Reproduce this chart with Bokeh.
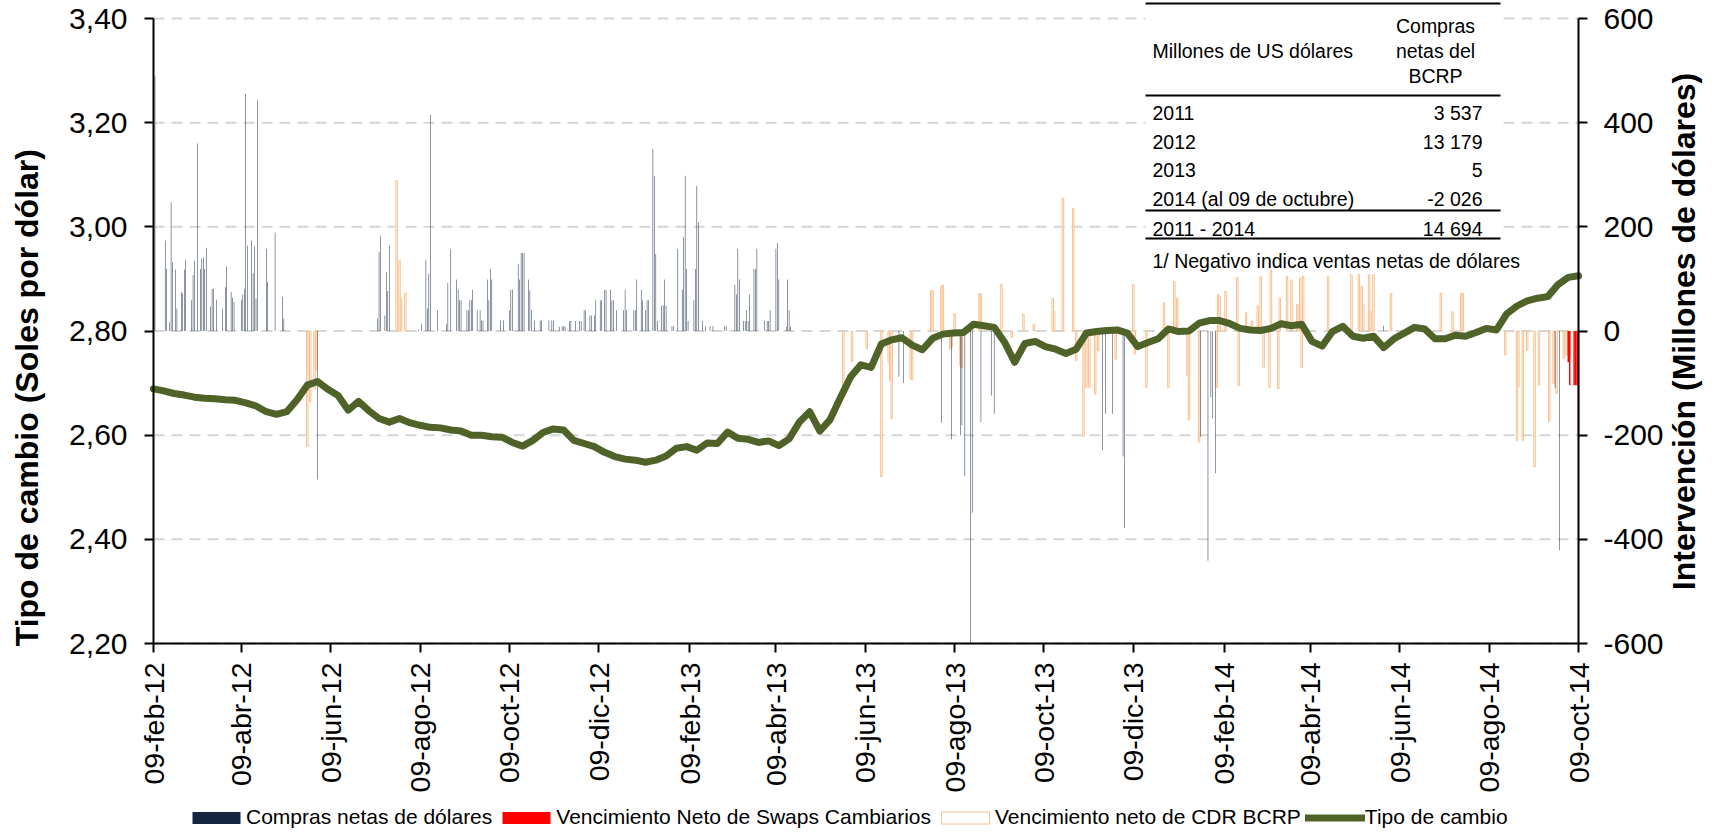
import math
from bokeh.plotting import figure
from bokeh.models import (Range1d, LinearAxis, FixedTicker, ColumnDataSource,
                          Legend, LegendItem, Label, BoxAnnotation)
from bokeh.embed import file_html
from bokeh.resources import INLINE

# ---------------- DATA ----------------
# x = días transcurridos desde el 09-feb-12
tick_dias = [0, 60, 121, 182, 243, 304, 366, 425, 486, 547, 608, 669, 731, 790, 851, 912, 973]
tick_labels = ["09-feb-12", "09-abr-12", "09-jun-12", "09-ago-12", "09-oct-12", "09-dic-12",
               "09-feb-13", "09-abr-13", "09-jun-13", "09-ago-13", "09-oct-13", "09-dic-13",
               "09-feb-14", "09-abr-14", "09-jun-14", "09-ago-14", "09-oct-14"]

left_ticks = [2.2, 2.4, 2.6, 2.8, 3.0, 3.2, 3.4]
left_labels = ["2,20", "2,40", "2,60", "2,80", "3,00", "3,20", "3,40"]
right_ticks = [-600, -400, -200, 0, 200, 400, 600]
right_labels = ["-600", "-400", "-200", "0", "200", "400", "600"]

# Tipo de cambio (S/ por US$), lectura semanal (cada 7 días desde 09-feb-12)
tc_semanal = [
    2.689, 2.685, 2.680, 2.677, 2.673, 2.671, 2.670, 2.668, 2.667, 2.662,
    2.656, 2.645, 2.640, 2.645, 2.668, 2.696, 2.703, 2.688, 2.676, 2.648,
    2.665, 2.647, 2.632, 2.625, 2.632, 2.624, 2.619, 2.615, 2.614, 2.610,
    2.608, 2.600, 2.600, 2.597, 2.596, 2.586, 2.579, 2.590, 2.605, 2.612,
    2.610, 2.590, 2.584, 2.578, 2.567, 2.559, 2.554, 2.552, 2.548, 2.552,
    2.560, 2.575, 2.578, 2.571, 2.585, 2.584, 2.606, 2.594, 2.592, 2.586,
    2.589, 2.580, 2.593, 2.625, 2.645, 2.608, 2.630, 2.672, 2.712, 2.735,
    2.730, 2.775, 2.783, 2.787, 2.773, 2.764, 2.786, 2.794, 2.796, 2.797,
    2.813, 2.810, 2.807, 2.779, 2.740, 2.776, 2.780, 2.770, 2.765, 2.757,
    2.765, 2.796, 2.799, 2.801, 2.802, 2.796, 2.770, 2.778, 2.785, 2.804,
    2.799, 2.800, 2.815, 2.820, 2.820, 2.814, 2.805, 2.802, 2.801, 2.805,
    2.814, 2.810, 2.813, 2.780, 2.771, 2.799, 2.809, 2.790, 2.786, 2.790,
    2.768, 2.785, 2.796, 2.807, 2.804, 2.785, 2.785, 2.792, 2.790, 2.797,
    2.805, 2.802, 2.833, 2.848, 2.858, 2.863, 2.866, 2.889, 2.903, 2.906,
]
tc_dias = [7 * i for i in range(len(tc_semanal))]

# Compras netas de dólares (millones US$)
compras_dias = [
    1, 8, 9, 11, 12, 13, 15, 16, 19, 20, 21, 22, 26, 27, 28, 30, 32, 33, 34, 35, 36, 39, 40, 41, 43,
    47, 49, 50, 53, 54, 55, 60, 61, 62, 63, 64, 67, 68, 69, 70, 71, 77, 78, 83, 88, 89,
    112,
    153, 154, 155, 158, 159, 160, 161, 181, 183, 186, 187, 188, 189, 194, 200, 201, 203, 207, 208, 209,
    210, 214, 215, 216, 217, 218, 221, 223, 224, 225, 228, 229, 230, 231, 237, 239, 243, 244, 245, 249,
    250, 251, 252, 253, 256, 257, 258, 260, 264, 265, 270, 272, 273, 277, 279, 280, 281, 284, 285, 288,
    291, 292, 294, 295, 298, 299, 301, 302, 305, 306, 308, 309, 312, 313, 314, 316, 321, 322, 323, 328,
    329, 330, 333, 334, 336, 337, 338, 341, 342, 343, 344, 347, 348, 349, 350, 354, 355, 358, 361, 362,
    363, 364, 365, 369, 370, 371, 372, 375, 377, 380, 382, 390, 391, 397, 398, 399, 400, 403, 404, 405,
    406, 407, 410, 411, 412, 417, 419, 420, 421, 425, 426, 427, 432, 433, 434, 435,
    509, 512, 538, 545, 551, 552, 554, 558, 559, 565, 572, 574, 648, 650, 655, 662, 663, 715, 720, 722,
    723, 725, 840, 957, 960,
]
compras_val = [
    490, 174, 119, 17, 247, 132, 118, 43, 75, 72, 118, 137, 59, 107, 135, 360, 119, 139, 141, 119, 160, 47, 81, 81, 60,
    43, 84, 124, 75, 64, 56, 60, 70, 81, 455, 164, 174, 111, 162, 62, 443, 158, 94, 189, 66, 24,
    -285,
    24, 151, 183, 30, 113, 77, 164, 3, 14, 137, 43, 110, 415, 40, 14, 92, 157, 99, 79, 59,
    59, 40, 40, 59, 59, 79, 40, 40, 20, 20, 99, 59, 119, 99, 20, 20, 40, 79, 79, 129,
    99, 150, 150, 150, 99, 78, 40, 20, 20, 20, 20, 20, 20, 8, 9, 9, 9, 19, 19, 19,
    19, 19, 40, 40, 30, 30, 30, 59, 59, 59, 79, 79, 79, 59, 59, 40, 40, 79, 40, 40,
    40, 99, 79, 59, 40, 59, 59, 350, 298, 148, 19, 49, 49, 99, 49, 9, 9, 158, 79, 180,
    298, 119, 19, 59, 119, 279, 209, 19, 9, 9, 9, 9, 9, 89, 70, 158, 99, 19, 19, 40,
    19, 70, 119, 119, 158, 19, 19, 19, 40, 158, 169, 99, 8, 99, 40, 8,
    -88, -100, -176, -208, -200, -181, -279, -600, -349, -175, -124, -159, -229, -159, -159, -241, -378, -203, -441, -127,
    -168, -273, 10, -110, -421,
]

# Vencimiento neto de CDR BCRP (millones US$)
cdr_dias = [
    105, 106, 107, 110, 111, 166, 168, 169, 172,
    471, 477, 487, 497, 502, 503, 504, 517, 518, 531, 532, 538, 539, 544, 545, 547, 551, 552, 564, 565,
    579, 586, 594, 601, 614, 615, 621, 628, 630, 635, 637, 639, 643, 645, 657, 661, 669, 670, 678, 690,
    693, 697, 699, 706, 707, 714, 726, 727, 728, 732, 740, 741, 746, 750, 754, 756, 758, 762, 763, 768,
    769, 774, 777, 781, 783, 784, 785, 802, 818, 823, 825, 826, 830, 831, 833, 845, 879, 887, 893, 894,
    923, 931, 932, 935, 938, 943, 946, 953, 956, 958, 963, 965, 967,
]
cdr_val = [
    -222, -66, -136, -111, -75, 289, 135, 62, 73,
    -111, -59, -34, -280, -60, -95, -168, -91, -94, 78, 76, 86, 88, -35, -31, 33, -67, -70, 72, 71,
    90, -13, 32, 13, 63, 38, 255, 235, -57, -203, -108, -108, -121, -38, -54, -6, 89, -44, -108, 54,
    -108, 95, 63, -86, -171, -213, -108, 70, 67, 76, 103, -105, 35, 19, 48, 105, -70, -108, 117, -111,
    63, 105, 98, 51, 102, -70, 105, 104, 108, 108, 85, 50, 108, 37, 108, 72, 72, 37, 72, 72,
    -46, -210, -107, -210, -37, -261, -104, -174, -101, -120, -53, -46, -49,
]

# Vencimiento neto de swaps cambiarios (millones US$)
swaps_dias = [966, 967, 970, 971, 972, 973]
swaps_val = [-60, -104, -104, -104, -104, -203]

# Tabla
tabla_filas = ["2011", "2012", "2013", "2014 (al 09 de octubre)"]
tabla_vals = ["3 537", "13 179", "5", "-2 026"]
tabla_total = ("2011 - 2014", "14 694")

titulo_izq = "Tipo de cambio (Soles por dólar)"
titulo_der = "Intervención (Millones de dólares)"

NAVY = "#14253F"
RED = "#FF0000"
ORANGE = "#FAC08F"
GREEN = "#4F6228"
FONT = "Liberation Sans"
NBSP = "\u00a0"

# ---------------- LAYOUT ----------------
# The frame covers the whole canvas; the three axes are pinned at the data edges
# (day 0, day 973, 2,20) so that labels, titles and the legend are never clipped.
CANVAS_W, CANVAS_H = 1717, 836
PLOT_L, PLOT_R, PLOT_T, PLOT_B = 153, 1578, 18, 643     # pixel box of the plotting area
X0, X1 = tick_dias[0], tick_dias[-1]
px_x = (PLOT_R - PLOT_L) / (X1 - X0)
px_l = (PLOT_B - PLOT_T) / (3.4 - 2.2)
px_r = (PLOT_B - PLOT_T) / (600 - (-600))
x_range = Range1d(X0 - PLOT_L / px_x, X1 + (CANVAS_W - PLOT_R) / px_x)
y_range = Range1d(2.2 - (CANVAS_H - PLOT_B) / px_l, 3.4 + PLOT_T / px_l)
r_range = Range1d(-600 - (CANVAS_H - PLOT_B) / px_r, 600 + PLOT_T / px_r)

p = figure(frame_width=CANVAS_W, frame_height=CANVAS_H, output_backend="svg", toolbar_location=None,
           x_range=x_range, y_range=y_range,
           min_border_left=0, min_border_right=0, min_border_top=0, min_border_bottom=0)
p.extra_y_ranges = {"int": r_range}
p.outline_line_color = None
p.background_fill_color = "white"
p.border_fill_color = "white"
p.xgrid.visible = False
p.ygrid.visible = False

# axes
xa = p.xaxis[0]
xa.fixed_location = 2.2
xa.bounds = (X0, X1)
xa.ticker = FixedTicker(ticks=tick_dias)
xa.major_label_overrides = {d: l for d, l in zip(tick_dias, tick_labels)}
xa.major_label_orientation = math.pi / 2
xa.major_label_text_font = FONT
xa.major_label_text_font_size = "28.5px"
xa.major_label_standoff = 10

ya = p.yaxis[0]
ya.fixed_location = X0
ya.bounds = (2.2, 3.4)
ya.ticker = FixedTicker(ticks=left_ticks)
ya.major_label_overrides = {t: l for t, l in zip(left_ticks, left_labels)}
ya.major_label_text_font = FONT
ya.major_label_text_font_size = "30px"
ya.major_label_standoff = 17
# trailing no-break spaces shift the centred title downward, as in the reference
ya.axis_label = titulo_izq + NBSP * 15
ya.axis_label_standoff = 21

ra = LinearAxis(y_range_name="int", ticker=FixedTicker(ticks=right_ticks), bounds=(-600, 600),
                fixed_location=X1)
ra.major_label_overrides = {t: l for t, l in zip(right_ticks, right_labels)}
ra.major_label_text_font = FONT
ra.major_label_text_font_size = "30px"
ra.major_label_standoff = 16
ra.axis_label = titulo_der
ra.axis_label_standoff = 17
try:
    ra.axis_label_orientation = math.pi / 2
except Exception:
    pass
try:
    ra.axis_label_align = "start"
    ra.axis_label = NBSP * 6 + titulo_der
except Exception:
    pass
p.add_layout(ra, "right")

for ax in (xa, ya, ra):
    ax.axis_line_color = "black"
    ax.axis_line_width = 2
    ax.major_tick_line_color = "black"
    ax.major_tick_line_width = 2
    ax.major_tick_out = 9
    ax.major_tick_in = 0
    ax.minor_tick_line_color = None
    ax.major_label_text_color = "black"
    ax.axis_label_text_font = FONT
    ax.axis_label_text_font_style = "bold"
    ax.axis_label_text_font_size = "32px"
    ax.axis_label_text_color = "black"

# dashed horizontal grid lines, limited to the plotting area
p.segment(x0=[X0] * len(left_ticks), x1=[X1] * len(left_ticks), y0=left_ticks, y1=left_ticks,
          line_color="#D6D6D6", line_width=2, line_dash="11 7")

# bars
r_cdr = p.vbar(x="x", top="top", bottom=0, width=1.0, y_range_name="int",
               source=ColumnDataSource(dict(x=cdr_dias, top=cdr_val)),
               fill_color="white", line_color=ORANGE, line_width=1)
r_com = p.vbar(x="x", top="top", bottom=0, width=0.33, y_range_name="int",
               source=ColumnDataSource(dict(x=compras_dias, top=compras_val)),
               fill_color=NAVY, line_color=None)
r_swp = p.vbar(x="x", top="top", bottom=0, width=1.0, y_range_name="int",
               source=ColumnDataSource(dict(x=swaps_dias, top=swaps_val)),
               fill_color=RED, line_color=None)

# exchange rate line
r_tc = p.line(tc_dias, tc_semanal, line_color=GREEN, line_width=7, line_join="round", line_cap="round")

legend = Legend(items=[
    LegendItem(label="Compras netas de dólares", renderers=[r_com]),
    LegendItem(label="Vencimiento Neto de Swaps Cambiarios", renderers=[r_swp]),
    LegendItem(label="Vencimiento neto de CDR BCRP", renderers=[r_cdr]),
    LegendItem(label="Tipo de cambio", renderers=[r_tc]),
], orientation="horizontal", location=(186, 7))
legend.label_text_font = FONT
legend.label_text_font_size = "21px"
legend.label_text_color = "black"
legend.glyph_width = 60
legend.glyph_height = 15
legend.label_standoff = 0
legend.spacing = 4
legend.padding = 0
legend.margin = 0
legend.border_line_color = None
legend.background_fill_alpha = 0
p.add_layout(legend, "center")

# table inset (canvas coordinates)
p.add_layout(BoxAnnotation(left=1145, right=1500, top=0, bottom=266,
                           left_units="canvas", right_units="canvas", top_units="canvas", bottom_units="canvas",
                           fill_color="white", fill_alpha=1, line_color=None))
for yt, yb in ((2, 4), (94, 96), (209, 211), (237, 239)):
    p.add_layout(BoxAnnotation(left=1145, right=1500, top=yt, bottom=yb,
                               left_units="canvas", right_units="canvas", top_units="canvas", bottom_units="canvas",
                               fill_color="black", fill_alpha=1, line_color=None))

def tlabel(x, y, text, align="left"):
    p.add_layout(Label(x=x, y=y, x_units="canvas", y_units="canvas", text=text, text_font=FONT,
                       text_font_size="19.5px", text_align=align, text_baseline="middle", text_color="black"))

tlabel(1152, 50, "Millones de US dólares")
tlabel(1435, 25, "Compras", "center")
tlabel(1435, 50, "netas del", "center")
tlabel(1435, 75, "BCRP", "center")
for i, (f, v) in enumerate(zip(tabla_filas, tabla_vals)):
    yy = [112, 141, 169, 198][i]
    tlabel(1152, yy, f)
    tlabel(1482, yy, v, "right")
tlabel(1152, 228, tabla_total[0])
tlabel(1482, 228, tabla_total[1], "right")
tlabel(1152, 260, "1/ Negativo indica ventas netas de dólares")

open("out.html", "w").write(file_html(p, INLINE))
